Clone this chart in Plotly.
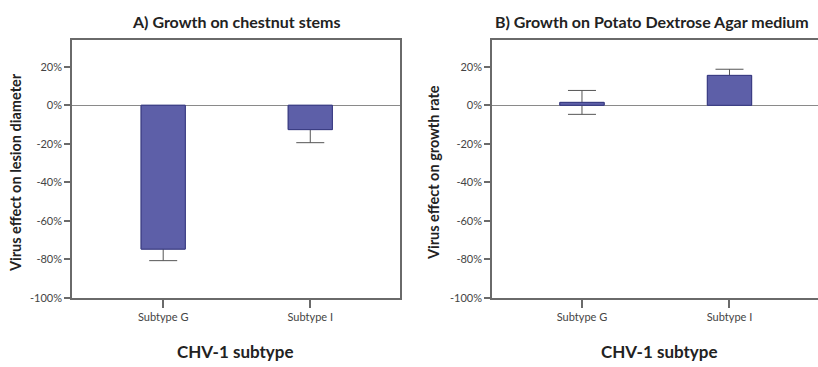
import plotly.graph_objects as go

# Virus effect (percent change) by CHV-1 subtype, mean and standard error
subtypes = ["Subtype G", "Subtype I"]
stem_effect = [-74.6, -12.6]       # A) lesion diameter on chestnut stems
stem_err = [6.0, 6.8]
pda_effect = [1.5, 15.5]           # B) growth rate on Potato Dextrose Agar
pda_err = [6.2, 3.2]
y_ticks = [20, 0, -20, -40, -60, -80, -100]
y_tick_labels = [f"{v}%" for v in y_ticks]

W, H = 818, 367
BAR_FILL = "#5d5fa8"
BAR_EDGE = "#3a3c82"
AXIS_GREY = "#6a6a6a"
FONT = "Lato"

fig = go.Figure()


def add_panel(values, errors, xa, ya):
    # bars carrying the error whiskers
    fig.add_trace(go.Bar(
        x=subtypes, y=values, width=0.3, xaxis=xa, yaxis=ya,
        marker=dict(color=BAR_FILL, line=dict(color=BAR_EDGE, width=1)),
        error_y=dict(type="data", array=errors, symmetric=True,
                     color="#555555", thickness=1, width=14),
        showlegend=False, hoverinfo="skip"))
    # same bars again on top, so whiskers only show outside the bar
    fig.add_trace(go.Bar(
        x=subtypes, y=values, width=0.3, xaxis=xa, yaxis=ya,
        marker=dict(color=BAR_FILL, line=dict(color=BAR_EDGE, width=1)),
        showlegend=False, hoverinfo="skip"))


add_panel(stem_effect, stem_err, "x", "y")
add_panel(pda_effect, pda_err, "x2", "y2")

y_dom = [1 - 303 / H, 1 - 41 / H]

xaxis_common = dict(
    type="category", categoryorder="array", categoryarray=subtypes,
    showgrid=False, zeroline=False, showline=True, linecolor=AXIS_GREY,
    linewidth=1.5, mirror=True, ticks="outside", ticklen=8,
    tickcolor=AXIS_GREY, tickwidth=1.5,
    tickfont=dict(family=FONT, size=11, color="#444444"), fixedrange=True)

yaxis_common = dict(
    range=[-100, 33.7], tickmode="array", tickvals=y_ticks,
    ticktext=y_tick_labels,
    showgrid=False, zeroline=True, zerolinecolor="#8a8a8a", zerolinewidth=1,
    showline=True, linecolor=AXIS_GREY, linewidth=1.5,
    ticks="outside", ticklen=6, tickcolor=AXIS_GREY, tickwidth=1.5,
    tickfont=dict(family=FONT, size=11, color="#444444"), fixedrange=True)

fig.update_layout(
    width=W, height=H,
    margin=dict(l=0, r=0, t=0, b=0),
    paper_bgcolor="white", plot_bgcolor="white",
    barmode="overlay",
    font=dict(family=FONT, color="#222222"),
    xaxis=dict(domain=[72 / W, 400 / W], range=[-0.62, 1.61],
               anchor="y", **xaxis_common),
    yaxis=dict(domain=y_dom, anchor="x", mirror=True, **yaxis_common),
    xaxis2=dict(domain=[492 / W, 1.0], range=[-0.61, 1.60],
                anchor="y2", **xaxis_common),
    yaxis2=dict(domain=y_dom, anchor="x2", mirror=False, **yaxis_common),
)

title_font = dict(family=FONT, size=16, color="#222222")
axis_title_font = dict(family=FONT, size=14.5, color="#222222")
x_title_font = dict(family=FONT, size=17, color="#222222")

annotations = [
    dict(text="<b>A) Growth on chestnut stems</b>", x=237 / W, y=1 - 22 / H,
         font=title_font),
    dict(text="<b>B) Growth on Potato Dextrose Agar medium</b>", x=652 / W,
         y=1 - 22 / H, font=title_font),
    dict(text="<b>CHV-1 subtype</b>", x=235 / W, y=1 - 357 / H,
         font=x_title_font),
    dict(text="<b>CHV-1 subtype</b>", x=659 / W, y=1 - 357 / H,
         font=x_title_font),
    dict(text="<b>Virus effect on lesion diameter</b>", x=15 / W,
         y=1 - 176 / H, textangle=-90, font=axis_title_font),
    dict(text="<b>Virus effect on growth rate</b>", x=433 / W,
         y=1 - 176 / H, textangle=-90, font=axis_title_font),
]
for a in annotations:
    fig.add_annotation(xref="paper", yref="paper", showarrow=False,
                       xanchor="center", yanchor="middle", **a)

fig.write_html("out.html")
